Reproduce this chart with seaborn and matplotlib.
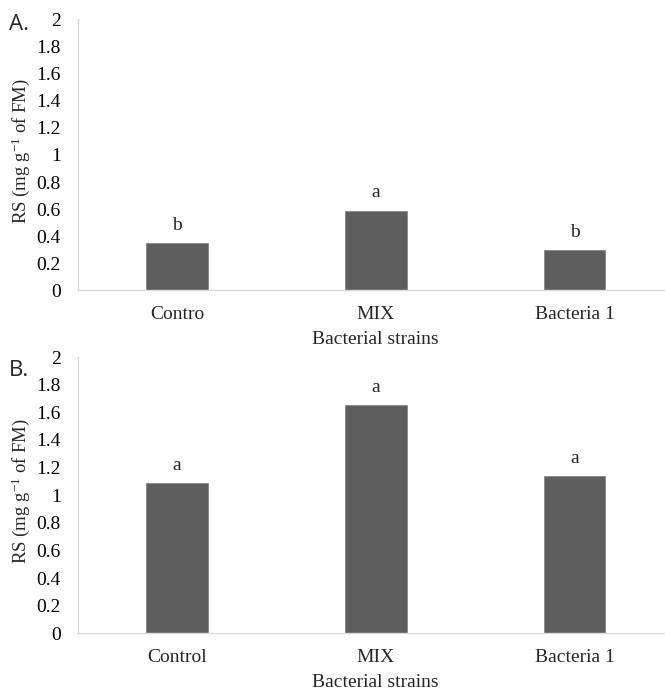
import matplotlib
matplotlib.use("Agg")
import matplotlib.pyplot as plt
import seaborn as sns
import pandas as pd

# Data
categories_a = ["Contro", "MIX", "Bacteria 1"]
values_a = [0.35, 0.59, 0.30]
letters_a = ["b", "a", "b"]

categories_b = ["Control", "MIX", "Bacteria 1"]
values_b = [1.09, 1.65, 1.14]
letters_b = ["a", "a", "a"]

yticks = [0, 0.2, 0.4, 0.6, 0.8, 1, 1.2, 1.4, 1.6, 1.8, 2]
ytick_labels = ["0", "0.2", "0.4", "0.6", "0.8", "1", "1.2", "1.4", "1.6", "1.8", "2"]
xlabel = "Bacterial strains"
ylabel = "RS (mg g$^{\\mathregular{-1}}$ of FM)"
panel_labels = ["A.", "B."]

sns.set_style("white")
plt.rcParams["font.family"] = ["Liberation Serif", "DejaVu Serif"]
plt.rcParams["mathtext.fontset"] = "custom"
plt.rcParams["mathtext.rm"] = "Liberation Serif"
plt.rcParams["mathtext.it"] = "Liberation Serif:italic"

W, H = 665, 693
fig = plt.figure(figsize=(W / 100, H / 100), dpi=100)

def px_axes(left, top, right, bottom):
    return fig.add_axes([left / W, 1 - bottom / H, (right - left) / W, (bottom - top) / H])

ax_a = px_axes(77.5, 19.5, 674, 290.5)
ax_b = px_axes(77.5, 357, 674, 633.3)

bar_color = "#5e5e5e"
spine_color = "#d9d9d9"

for ax, cats, vals, letters, ylab_y, plabel, pcy in [
    (ax_a, categories_a, values_a, letters_a, 0.515, panel_labels[0], 25),
    (ax_b, categories_b, values_b, letters_b, 0.515, panel_labels[1], 370),
]:
    df = pd.DataFrame({"cat": cats, "val": vals})
    sns.barplot(data=df, x="cat", y="val", color=bar_color, saturation=1,
                width=0.31, ax=ax, edgecolor="#8a8a8a", linewidth=0.6)
    ax.set_xlim(-0.5, 2.5)
    ax.set_ylim(0, 2)
    ax.set_yticks(yticks)
    ax.set_yticklabels(ytick_labels)
    ax.tick_params(axis="y", length=0, pad=12, labelsize=14, colors="#000000")
    ax.tick_params(axis="x", length=0, pad=11, labelsize=14)
    for s in ["top", "right"]:
        ax.spines[s].set_visible(False)
    for s in ["left", "bottom"]:
        ax.spines[s].set_color(spine_color)
        ax.spines[s].set_linewidth(1.0)
    ax.set_xlabel(xlabel, fontsize=14, labelpad=6)
    ax.set_ylabel(ylabel, fontsize=13.5)
    ax.yaxis.set_label_coords(-0.076, ylab_y)
    for i, (v, l) in enumerate(zip(vals, letters)):
        ax.annotate(l, xy=(i, v), xytext=(0, 9.5), textcoords="offset points",
                    ha="center", va="baseline", fontsize=14)
    fig.text(9 / W, 1 - pcy / H, plabel, fontsize=16,
             family=["Open Sans", "DejaVu Sans"], ha="left", va="center")

fig.savefig("out.png", dpi=100)
